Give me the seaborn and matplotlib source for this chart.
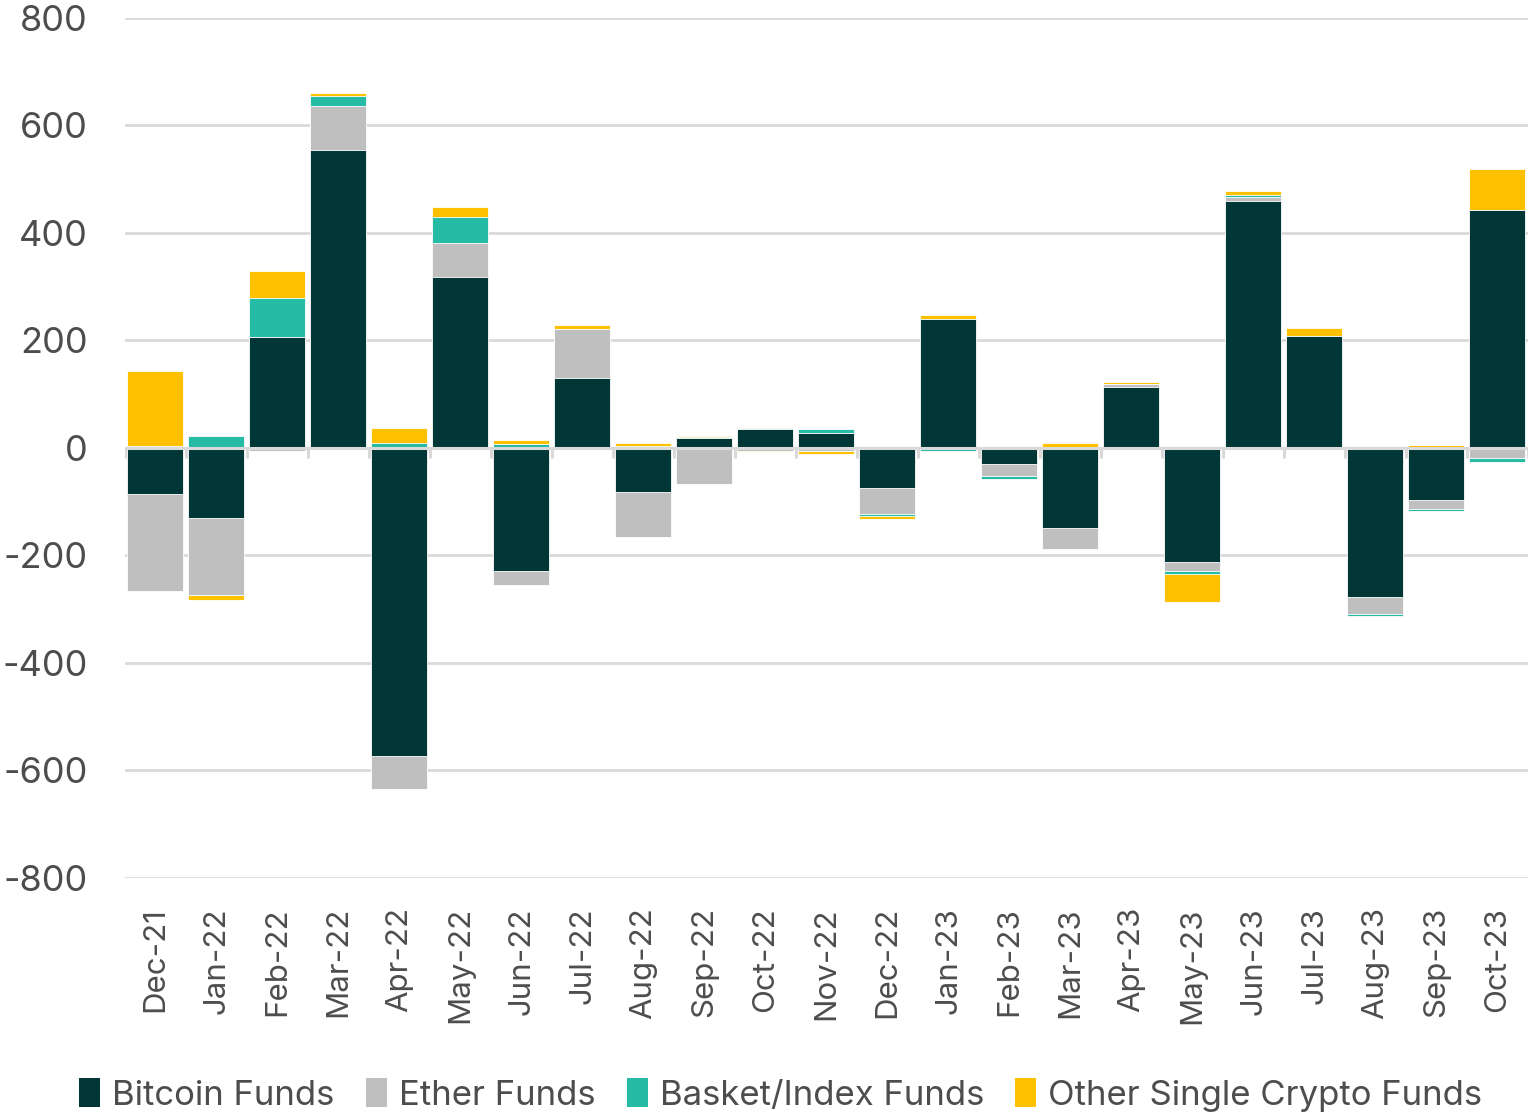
import numpy as np
import pandas as pd
import matplotlib
matplotlib.use("Agg")
import matplotlib.pyplot as plt
import seaborn as sns
from matplotlib.patches import Patch

months = ['Dec-21', 'Jan-22', 'Feb-22', 'Mar-22', 'Apr-22', 'May-22', 'Jun-22', 'Jul-22',
          'Aug-22', 'Sep-22', 'Oct-22', 'Nov-22', 'Dec-22', 'Jan-23', 'Feb-23', 'Mar-23',
          'Apr-23', 'May-23', 'Jun-23', 'Jul-23', 'Aug-23', 'Sep-23', 'Oct-23']
bitcoin = [-86, -130, 207, 554, -573, 318, -229, 130, -82, 18, 36, 27,
           -74, 240, -30, -148, 113, -212, 460, 208, -277, -97, 443]
ether = [-180, -143, -5, 82, -61, 63, -26, 91, -84, -67, -5, -5,
         -48, 0, -22, -40, 6, -17, 7, 0, -32, -17, -18]
basket = [3, 22, 72, 18, 10, 48, 8, 0, 4, 2, 2, 9,
          -5, -5, -5, 0, 0, -5, 4, 0, -4, -3, -9]
other = [140, -10, 50, 6, 28, 19, 7, 8, 5, 2, -3, -6,
         -5, 7, 0, 10, 4, -53, 7, 15, 0, 5, 76]

series_names = ['Bitcoin Funds', 'Ether Funds', 'Basket/Index Funds', 'Other Single Crypto Funds']
palette = ['#003736', '#BFBFBF', '#26BBA5', '#FFC000']

df = pd.DataFrame(dict(zip(series_names, [bitcoin, ether, basket, other])), index=months)
pos = df.clip(lower=0).cumsum(axis=1)
neg = df.clip(upper=0).cumsum(axis=1)

sns.set_theme(style="white")
plt.rcParams['font.family'] = ['Inter', 'DejaVu Sans']
plt.rcParams['axes.unicode_minus'] = False

fig = plt.figure(figsize=(15.31, 11.15), dpi=100)
ax = fig.add_axes([0.0816, 0.2126, 0.9164, 0.7713])

# stacked bars: draw cumulative totals from outermost layer inward
for name, col in reversed(list(zip(series_names, palette))):
    for stack in (pos, neg):
        sns.barplot(x=months, y=stack[name].values, color=col, width=0.92,
                    edgecolor='white', linewidth=0.6, saturation=1, ax=ax, zorder=3)

ax.set_ylim(-800, 800)
ax.set_xlim(-0.5, len(months) - 0.5)
ax.set_yticks(np.arange(-800, 801, 200))
ax.yaxis.grid(True, color='#D9D9D9', linewidth=2, zorder=0)
ax.set_axisbelow(True)
for s in ax.spines.values():
    s.set_visible(False)

# zero line with category separator ticks
ax.axhline(0, color='#D9D9D9', linewidth=2.2, zorder=4)
ax.vlines(np.arange(-0.5, len(months)), -19, 0, color='#D9D9D9', linewidth=2.2, zorder=4)

ax.tick_params(axis='y', length=0, pad=27, labelsize=26, labelcolor='#4D4D4D')
ax.tick_params(axis='x', length=0, pad=21, labelsize=22.5, labelcolor='#4D4D4D', rotation=90)
ax.set_xlabel('')
ax.set_ylabel('')

handles = [Patch(facecolor=c, edgecolor='none') for c in palette]
fig.legend(handles, series_names, loc='lower center', bbox_to_anchor=(0.51, -0.025), ncol=4,
           frameon=False, fontsize=25, handlelength=0.6, handleheight=0.9,
           handletextpad=0.35, columnspacing=0.9, labelcolor='#4D4D4D')

fig.savefig('out.png', dpi=100)
